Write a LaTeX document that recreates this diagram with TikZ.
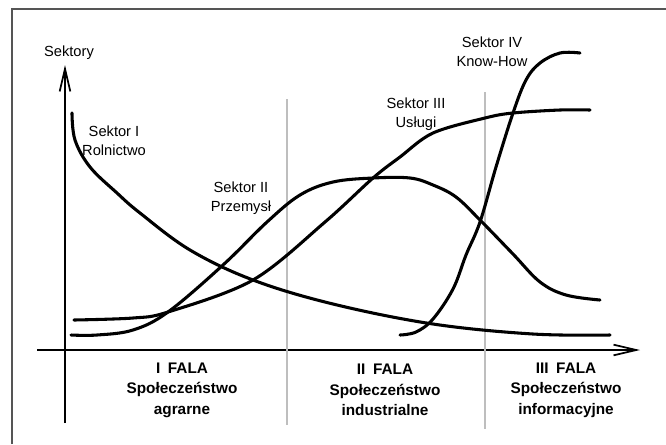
\documentclass[tikz,border=0pt]{standalone}
\usepackage{fontspec}
\setmainfont{Liberation Sans}
\usepackage{tikz}
\usetikzlibrary{calc, arrows.meta}
\tikzset{>={Straight Barb[length=17pt,width=8pt,line width=1.3pt]}}
\tikzset{sektor/.style={line width=2.3pt, line cap=round},
  fala/.style={font=\fontsize{11.5}{15.4}\selectfont\bfseries, align=center},
  etykieta/.style={font=\fontsize{11}{14.3}\selectfont, align=center}}
\definecolor{mygray}{RGB}{190, 190, 190}
\definecolor{ramka}{RGB}{85, 85, 85}

\begin{document}
\begin{tikzpicture}[x=0.75pt, y=-0.75pt]
\useasboundingbox (0,0) rectangle (666,444);
\draw[ramka, line width=1.5pt] (11.5,444) -- (11.5,9) -- (666,9);
% osie
\coordinate (ydol) at (65,423);
\coordinate (ygora) at (65,65);
\coordinate (xlewo) at (37,350);
\coordinate (xprawo) at (640,350);
\draw[line width=1.5pt, ->] (ydol) -- (ygora);
\draw[line width=1.3pt, ->] (xlewo) -- (xprawo);
\node (sektory) at (69,53) {\fontsize{11}{13}\selectfont Sektory};
% granice fal
\draw[mygray, line width=0.8pt] (287,99) -- (287,425);
\draw[mygray, line width=0.8pt] (485,92) -- (485,429);
% Sektor I
\draw[sektor] plot [smooth, tension=0.6] coordinates{(72,113) (75,140) (90,167) (117,193) (140,213)
  (190,250) (253,280) (333,304) (433,324) (533,334) (610,335)};
% Sektor II
\draw[sektor] plot [smooth, tension=0.6] coordinates{(71,335) (97,335) (133,330) (168,312) (223,265)
  (267,222) (300,195) (333,182) (373,178) (410,178) (433,185) (456,197) (480,220) (513,254)
  (540,282) (566,295) (600,300)};
% Sektor III
\draw[sektor] plot [smooth, tension=0.55] coordinates{(74,320) (133,318) (168,312) (253,280)
  (325,222) (373,178) (400,157) (433,133) (485,118) (513,113) (560,110) (590,110)};
% Sektor IV
\draw[sektor] plot [smooth, tension=0.6] coordinates{(400,335) (416,332) (433,319) (453,289) (466,255)
  (480,222) (496,167) (513,113) (526,80) (540,63) (560,53) (580,53)};
% opisy
\node[etykieta] (s1) at (114,141) {Sektor I\\Rolnictwo};
\node[etykieta] (s2) at (241,198) {Sektor II\\Przemysł};
\node[etykieta] (s3) at (416,114) {Sektor III\\Usługi};
\node[etykieta] (s4) at (492,52) {Sektor IV\\Know-How};
\node[fala] (f1) at (182,390) {I\enspace FALA\\Społeczeństwo\\agrarne};
\node[fala] (f2) at (385,390) {II\enspace FALA\\Społeczeństwo\\industrialne};
\node[fala] (f3) at (566,390) {III\enspace FALA\\Społeczeństwo\\informacyjne};
\end{tikzpicture}
\end{document}
